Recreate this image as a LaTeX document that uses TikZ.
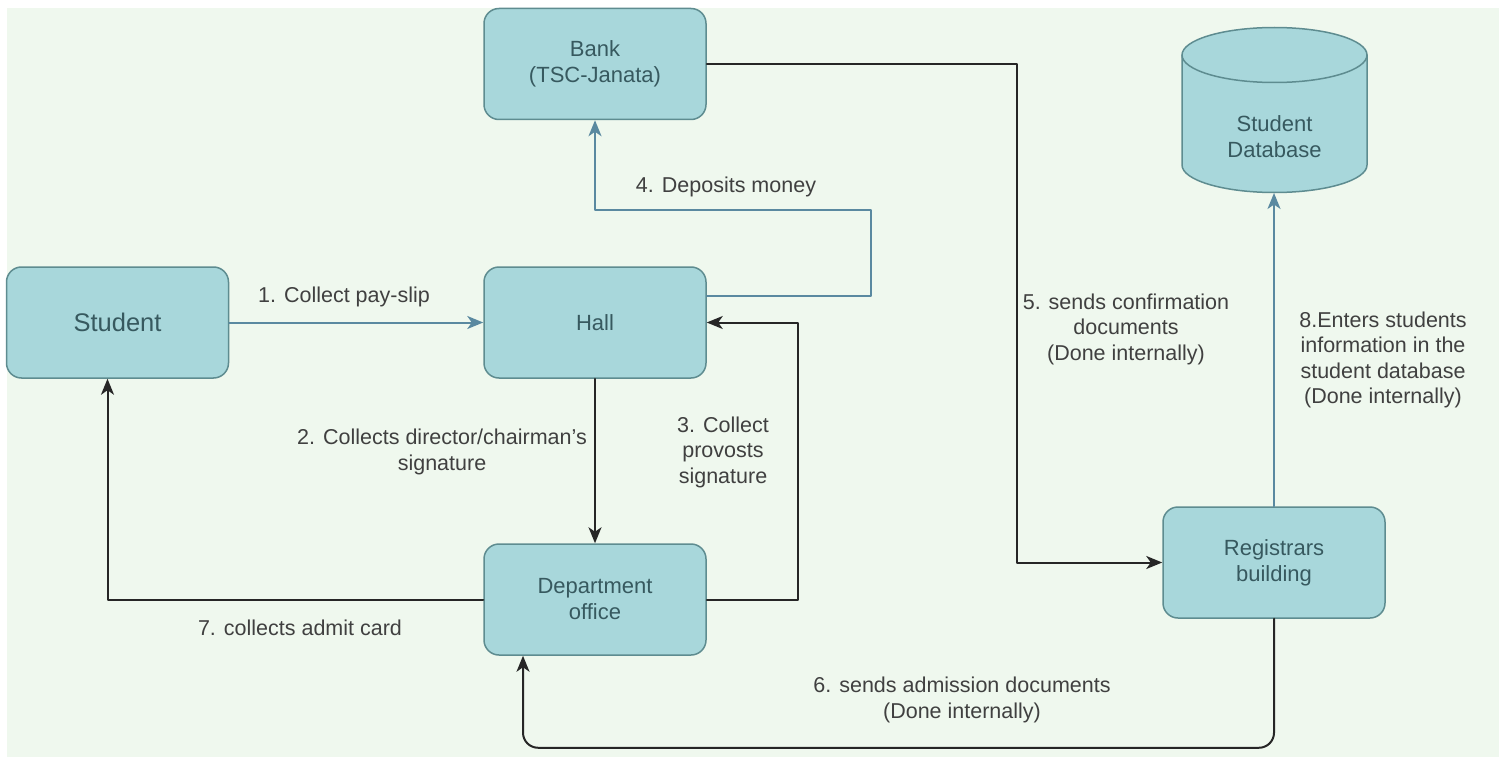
\documentclass[tikz,border=0pt]{standalone}
\usepackage{fontspec}
\setmainfont{Liberation Sans}
\usetikzlibrary{arrows.meta}
\definecolor{bgcol}{HTML}{EFF8EE}
\definecolor{boxfill}{HTML}{A8D7DB}
\definecolor{boxline}{HTML}{5E8C90}
\definecolor{boxtext}{HTML}{37595F}
\definecolor{tealline}{HTML}{5A89A0}
\definecolor{labtext}{HTML}{404040}
\tikzset{
  procbox/.style={draw=boxline, fill=boxfill, line width=1.5pt, rounded corners=15pt,
    minimum width=222pt, minimum height=111pt, align=center, text=boxtext,
    font=\fontsize{22}{26}\selectfont},
  tealarrow/.style={draw=tealline, line width=2pt, ->},
  blackarrow/.style={draw=black!85, line width=2pt, ->},
  steplabel/.style={text=labtext, align=center, font=\fontsize{21.5}{25.5}\selectfont}
}
\begin{document}
\begin{tikzpicture}[line cap=round,line join=round,>={Stealth[length=16pt,width=13pt,inset=4.5pt]},x=1pt,y=-1pt]
  \useasboundingbox (0,0) rectangle (1499,757);
  \fill[white] (0,0) rectangle (1499,757);
  \fill[bgcol] (7,8) rectangle (1499,757);
  %boites
  \node[procbox] (bank) at (595,64) {Bank\\(TSC-Janata)};
  \node[procbox, font=\fontsize{25.5}{30}\selectfont] (student) at (117.5,322.5) {Student};
  \node[procbox] (hall) at (595,322.5) {Hall};
  \node[procbox] (dept) at (595,599.5) {Department\\office};
  \node[procbox] (reg) at (1274,562.5) {Registrars\\building};
  %base de donnees
  \fill[boxfill] (1182,55) -- (1182,165) arc[start angle=180, end angle=0, x radius=92.5, y radius=27.5]
    -- (1367,55) arc[start angle=360, end angle=180, x radius=92.5, y radius=27.5] -- cycle;
  \draw[boxline, line width=1.5pt] (1182,55) -- (1182,165) arc[start angle=180, end angle=0, x radius=92.5, y radius=27.5] -- (1367,55);
  \draw[boxline, line width=1.5pt] (1274.5,55) ellipse[x radius=92.5, y radius=27.5];
  \node[text=boxtext, align=center, font=\fontsize{22}{26}\selectfont] (db) at (1274.5,137) {Student\\Database};
  \coordinate (dbbot) at (1274,193);
  %fleches
  \draw[tealarrow] (student) -- (hall);
  \draw[tealarrow] ([yshift=27pt]hall.east) -- ++(164,0) |- ([yshift=-90pt]bank.south) -- (bank.south);
  \draw[blackarrow] (bank.east) -| ([xshift=-145pt]reg.west) -- (reg.west);
  \draw[tealarrow] (reg.north) -- (reg.north |- dbbot);
  \draw[blackarrow] (hall) -- (dept);
  \draw[blackarrow] (dept.east) -- ++(91,0) |- (hall.east);
  \draw[blackarrow] (dept.west) -| ([xshift=-10pt]student.south);
  \draw[blackarrow, rounded corners=15pt] (reg.south) -- ++(0,129) -| ([xshift=-72pt]dept.south);
  %etiquettes
  \node[steplabel] (l1) at (344,297) {1. Collect pay-slip};
  \node[steplabel] (l2) at (442,452) {2. Collects director/chairman's\\signature};
  \node[steplabel] (l3) at (723,452) {3. Collect\\provosts\\signature};
  \node[steplabel] (l4) at (726,187) {4. Deposits money};
  \node[steplabel] (l5) at (1126,329) {5. sends confirmation\\documents\\(Done internally)};
  \node[steplabel] (l6) at (962,700) {6. sends admission documents\\(Done internally)};
  \node[steplabel] (l7) at (300,628) {7. collects admit card};
  \node[steplabel] (l8) at (1383,360) {8.Enters students\\information in the\\student database\\(Done internally)};
\end{tikzpicture}
\end{document}
